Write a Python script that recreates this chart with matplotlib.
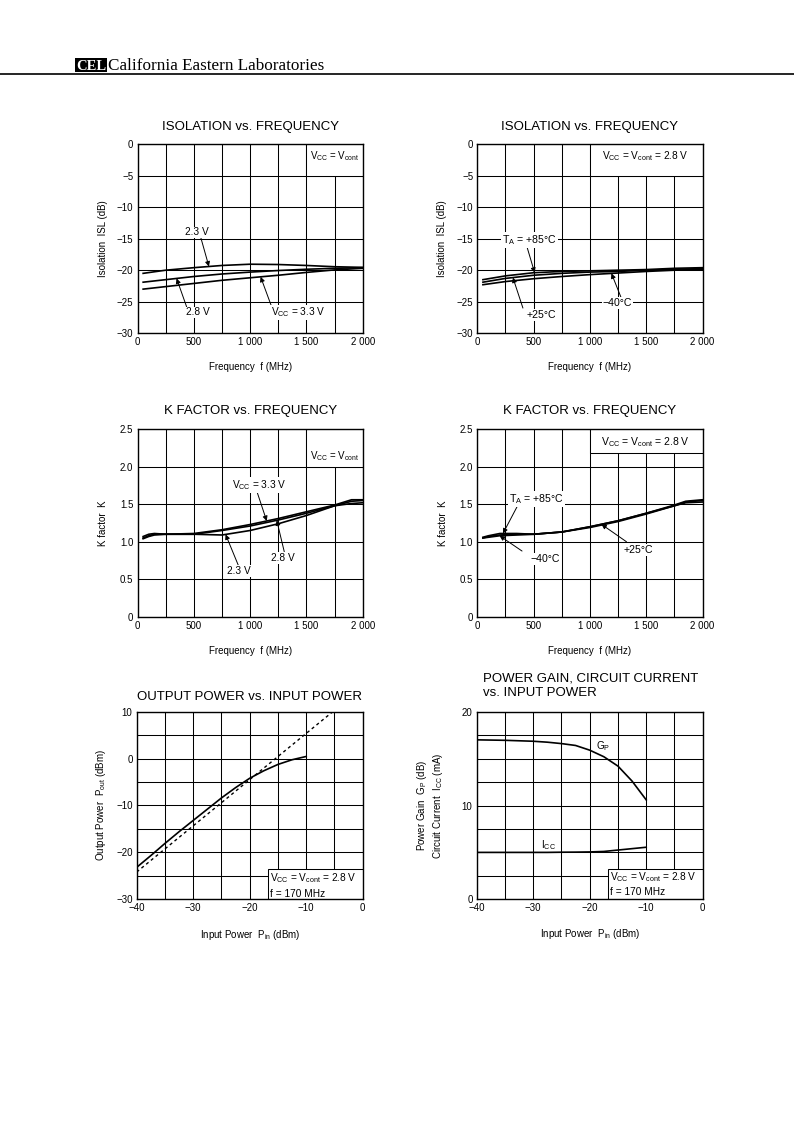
import numpy as np
import matplotlib.pyplot as plt
from matplotlib.patches import Rectangle
from matplotlib.lines import Line2D

plt.rcParams['font.family'] = ['Liberation Sans', 'DejaVu Sans']
plt.rcParams['mathtext.default'] = 'regular'

# ---- data ----
freq = [50, 250, 500, 750, 1000, 1250, 1500, 1750, 2000]
isl_23v = [-20.5, -20.0, -19.6, -19.25, -19.05, -19.1, -19.25, -19.45, -19.55]
isl_28v = [-21.9, -21.5, -21.0, -20.6, -20.3, -20.05, -19.85, -19.7, -19.6]
isl_33v = [-23.0, -22.6, -22.1, -21.6, -21.2, -20.8, -20.35, -19.95, -19.7]

isl_p85 = [-21.5, -20.9, -20.4, -20.2, -20.1, -20.0, -19.9, -19.7, -19.6]
isl_p25 = [-21.9, -21.3, -20.8, -20.5, -20.3, -20.2, -20.0, -19.85, -19.75]
isl_m40 = [-22.3, -21.8, -21.35, -21.0, -20.7, -20.45, -20.2, -20.0, -19.85]

freq_k = [50, 100, 150, 250, 500, 750, 1000, 1250, 1500, 1750, 1900, 2000]
k_33v = [1.07, 1.10, 1.11, 1.10, 1.11, 1.16, 1.23, 1.31, 1.40, 1.49, 1.56, 1.56]
k_28v = [1.05, 1.08, 1.10, 1.10, 1.10, 1.15, 1.21, 1.29, 1.38, 1.48, 1.54, 1.55]
k_23v = [1.04, 1.07, 1.09, 1.10, 1.10, 1.09, 1.15, 1.24, 1.35, 1.48, 1.51, 1.52]

freq_kt = [50, 100, 200, 350, 500, 750, 1000, 1250, 1500, 1750, 1850, 2000]
k_p85 = [1.06, 1.08, 1.11, 1.11, 1.10, 1.13, 1.20, 1.28, 1.38, 1.49, 1.54, 1.56]
k_p25 = [1.05, 1.07, 1.09, 1.10, 1.10, 1.13, 1.20, 1.28, 1.38, 1.48, 1.53, 1.55]
k_m40 = [1.05, 1.06, 1.08, 1.09, 1.10, 1.13, 1.19, 1.27, 1.37, 1.48, 1.52, 1.53]

pin = [-40, -37.5, -35, -32.5, -30, -27.5, -25, -22.5, -20, -17.5, -15, -12.5, -10]
pout = [-23.2, -20.7, -18.1, -15.6, -13.2, -10.8, -8.4, -6.2, -4.2, -2.6, -1.25, -0.25, 0.45]
pin_linear = [-40, -5.3]
pout_linear = [-24.2, 10.0]

pin_g = [-40, -35, -30, -27.5, -25, -22.5, -20, -17.5, -15, -12.5, -10]
gain = [17.0, 16.95, 16.85, 16.75, 16.6, 16.4, 15.9, 15.2, 14.2, 12.6, 10.6]
icc = [5.0, 5.0, 5.0, 5.0, 5.02, 5.03, 5.05, 5.1, 5.25, 5.4, 5.55]

freq_ticks = [0, 500, 1000, 1500, 2000]
freq_ticklabels = ['0', '500', '1 000', '1 500', '2 000']
isl_ticks = [0, -5, -10, -15, -20, -25, -30]
isl_ticklabels = ['0', '\u22125', '\u221210', '\u221215', '\u221220', '\u221225', '\u221230']
k_ticks = [0, 0.5, 1.0, 1.5, 2.0, 2.5]
k_ticklabels = ['0', '0.5', '1.0', '1.5', '2.0', '2.5']
pin_ticks = [-40, -30, -20, -10, 0]
pin_ticklabels = ['\u221240', '\u221230', '\u221220', '\u221210', '0']
pout_ticks = [-30, -20, -10, 0, 10]
pout_ticklabels = ['\u221230', '\u221220', '\u221210', '0', '10']
gain_ticks = [0, 10, 20]
gain_ticklabels = ['0', '10', '20']

W, H = 794, 1123
LEFT_COL, RIGHT_COL, AX_W = 137.5, 477.3, 225.3


def px_rect(left, top, width, height):
    """Axes rectangle in figure fraction from pixel coordinates."""
    return [left / W, 1 - (top + height) / H, width / W, height / H]


def format_axes(ax, xlim, ylim, xticks, xticklabels, xgrid, yticks, yticklabels,
                ygrid, xlabel, ylabel, ylabel_x=-0.133, xlabel_y=-0.15):
    """Datasheet style: black grid, no tick marks, plain labels"""
    ax.set_xlim(xlim)
    ax.set_ylim(ylim)
    ax.set_xticks(xticks)
    ax.set_xticklabels(xticklabels)
    ax.set_xticks(xgrid, minor=True)
    ax.set_yticks(yticks)
    ax.set_yticklabels(yticklabels)
    ax.set_yticks(ygrid, minor=True)
    ax.grid(True, which='both', color='black', linewidth=0.75)
    ax.set_axisbelow(True)
    ax.tick_params(which='both', length=0, labelsize=7, pad=3)
    for spine in ax.spines.values():
        spine.set_linewidth(1.0)
    ax.set_xlabel(xlabel, fontsize=7)
    ax.set_ylabel(ylabel, fontsize=7)
    ax.xaxis.set_label_coords(0.5, xlabel_y)
    ax.yaxis.set_label_coords(ylabel_x, 0.5)


def title(ax, text, y=1.075):
    ax.text(0.5, y, text, transform=ax.transAxes, ha='center', va='baseline',
            fontsize=9.5)


def box(ax, x0, y0, x1, y1):
    ax.add_patch(Rectangle((x0, y0), x1 - x0, y1 - y0, facecolor='white',
                           edgecolor='black', linewidth=0.75, zorder=1.5))


def label(ax, x, y, text, size=7.3, ha='center', clear=True):
    bbox = dict(facecolor='white', edgecolor='none', pad=0.6) if clear else None
    ax.text(x, y, text, ha=ha, va='center', fontsize=size, zorder=4, bbox=bbox)


def arrow(ax, tail, tip):
    ax.annotate('', xy=tip, xytext=tail, zorder=3,
                arrowprops=dict(arrowstyle='-|>', color='black', lw=0.7,
                                mutation_scale=7, shrinkA=0, shrinkB=0))


def curve(ax, x, y, **kw):
    ax.plot(x, y, color='black', linewidth=1.2, zorder=2, **kw)


fig = plt.figure(figsize=(W / 100, H / 100), dpi=100)

# ---- header ----
fig.add_artist(Line2D([0, 1], [1 - 74.3 / H] * 2, color='black', linewidth=1.2))
fig.add_artist(Rectangle((75 / W, 1 - 71.7 / H), 32 / W, 14 / H,
                         facecolor='black', edgecolor='none'))
fig.text(91 / W, 1 - 70.5 / H, 'CEL', color='white', fontsize=10.5,
         family='Liberation Serif', weight='bold', ha='center', va='baseline')
fig.text(108 / W, 1 - 70.5 / H, 'California Eastern Laboratories',
         fontsize=12.3, family='Liberation Serif', va='baseline')

freq_grid = np.arange(0, 2001, 250)
pin_grid = np.arange(-40, 1, 5)

# ---- isolation vs frequency (Vcc) ----
ax1 = fig.add_axes(px_rect(LEFT_COL, 144, AX_W, 189.3))
format_axes(ax1, (0, 2000), (-30, 0), freq_ticks, freq_ticklabels, freq_grid,
            isl_ticks, isl_ticklabels, np.arange(-30, 1, 5),
            'Frequency  f (MHz)', 'Isolation  ISL (dB)')
title(ax1, 'ISOLATION vs. FREQUENCY', 1.074)
for s in (isl_23v, isl_28v, isl_33v):
    curve(ax1, freq, s)
box(ax1, 1500, -5, 2000, 0)
label(ax1, 1750, -1.85, 'V$_{CC}$ = V$_{cont}$', size=7)
label(ax1, 524, -14.0, '2.3 V')
arrow(ax1, (563, -14.9), (634, np.interp(634, freq, isl_23v)))
label(ax1, 539, -26.7, '2.8 V')
arrow(ax1, (436, -25.8), (347, np.interp(347, freq, isl_28v)))
label(ax1, 1428, -26.7, 'V$_{CC}$ = 3.3 V')
arrow(ax1, (1191, -25.8), (1093, np.interp(1093, freq, isl_33v)))

# ---- isolation vs frequency (temperature) ----
ax2 = fig.add_axes(px_rect(RIGHT_COL, 144, AX_W, 189.3))
format_axes(ax2, (0, 2000), (-30, 0), freq_ticks, freq_ticklabels, freq_grid,
            isl_ticks, isl_ticklabels, np.arange(-30, 1, 5),
            'Frequency  f (MHz)', 'Isolation  ISL (dB)')
title(ax2, 'ISOLATION vs. FREQUENCY', 1.074)
for s in (isl_p85, isl_p25, isl_m40):
    curve(ax2, freq, s)
box(ax2, 1000, -5, 2000, 0)
label(ax2, 1491, -1.85, 'V$_{CC}$ = V$_{cont}$ = 2.8 V', size=7.3)
label(ax2, 465, -15.2, 'T$_A$ = +85\u00b0C', size=7.6)
arrow(ax2, (436, -16.0), (509, np.interp(509, freq, isl_p85)))
label(ax2, 569, -27.1, '+25\u00b0C', size=7.6)
arrow(ax2, (405, -26.0), (316, np.interp(316, freq, isl_p25)))
label(ax2, 1244, -25.2, '\u221240\u00b0C', size=7.6)
arrow(ax2, (1280, -24.5), (1191, np.interp(1191, freq, isl_m40)))

# ---- K factor vs frequency (Vcc) ----
ax3 = fig.add_axes(px_rect(LEFT_COL, 429.3, AX_W, 187.4))
format_axes(ax3, (0, 2000), (0, 2.5), freq_ticks, freq_ticklabels, freq_grid,
            k_ticks, k_ticklabels, k_ticks,
            'Frequency  f (MHz)', 'K factor  K', ylabel_x=-0.13, xlabel_y=-0.155)
title(ax3, 'K FACTOR vs. FREQUENCY', 1.08)
for s in (k_33v, k_28v, k_23v):
    curve(ax3, freq_k, s)
box(ax3, 1500, 2.0, 2000, 2.5)
label(ax3, 1754, 2.14, 'V$_{CC}$ = V$_{cont}$', size=7)
label(ax3, 1081, 1.757, 'V$_{CC}$ = 3.3 V')
arrow(ax3, (1058, 1.68), (1147, np.interp(1147, freq_k, k_33v)))
label(ax3, 1289, 0.786, '2.8 V')
arrow(ax3, (1303, 0.866), (1236, np.interp(1236, freq_k, k_28v)))
label(ax3, 900, 0.613, '2.3 V')
arrow(ax3, (894, 0.689), (782, np.interp(782, freq_k, k_23v)))

# ---- K factor vs frequency (temperature) ----
ax4 = fig.add_axes(px_rect(RIGHT_COL, 429.3, AX_W, 187.4))
format_axes(ax4, (0, 2000), (0, 2.5), freq_ticks, freq_ticklabels, freq_grid,
            k_ticks, k_ticklabels, k_ticks,
            'Frequency  f (MHz)', 'K factor  K', ylabel_x=-0.13, xlabel_y=-0.155)
title(ax4, 'K FACTOR vs. FREQUENCY', 1.08)
for s in (k_p85, k_p25, k_m40):
    curve(ax4, freq_kt, s)
box(ax4, 1000, 2.19, 2000, 2.5)
label(ax4, 1490, 2.335, 'V$_{CC}$ = V$_{cont}$ = 2.8 V', size=7.5)
label(ax4, 524, 1.57, 'T$_A$ = +85\u00b0C', size=7.6)
arrow(ax4, (361, 1.49), (228, np.interp(228, freq_kt, k_p85)))
label(ax4, 598, 0.769, '\u221240\u00b0C', size=7.6)
arrow(ax4, (397, 0.876), (198, np.interp(198, freq_kt, k_m40)))
label(ax4, 1428, 0.89, '+25\u00b0C', size=7.6)
arrow(ax4, (1324, 1.0), (1102, np.interp(1102, freq_kt, k_p25)))

# ---- output power vs input power ----
ax5 = fig.add_axes(px_rect(136.7, 711.7, 226, 187.5))
format_axes(ax5, (-40, 0), (-30, 10), pin_ticks, pin_ticklabels, pin_grid,
            pout_ticks, pout_ticklabels, np.arange(-30, 11, 5),
            'Input Power  P$_{in}$ (dBm)', 'Output Power  P$_{out}$ (dBm)',
            ylabel_x=-0.125, xlabel_y=-0.153)
title(ax5, 'OUTPUT POWER vs. INPUT POWER', 1.0625)
curve(ax5, pin, pout)
ax5.plot(pin_linear, pout_linear, color='black', linewidth=1.0,
         linestyle=(0, (2.2, 2.2)), zorder=2)
box(ax5, -16.8, -30, 0, -23.6)
ax5.text(-16.4, -25.6, 'V$_{CC}$ = V$_{cont}$ = 2.8 V', fontsize=7.3, va='center', zorder=4)
ax5.text(-16.4, -28.8, 'f = 170 MHz', fontsize=7.3, va='center', zorder=4)

# ---- power gain, circuit current vs input power ----
ax6 = fig.add_axes(px_rect(476.7, 711.7, 226, 187.6))
format_axes(ax6, (-40, 0), (0, 20), pin_ticks, pin_ticklabels, pin_grid,
            gain_ticks, gain_ticklabels, np.arange(0, 20.1, 2.5),
            'Input Power  P$_{in}$ (dBm)',
            'Power Gain  G$_P$ (dB)\nCircuit Current  I$_{CC}$ (mA)',
            ylabel_x=-0.14, xlabel_y=-0.15)
ax6.text(0.028, 1.16, 'POWER GAIN, CIRCUIT CURRENT', transform=ax6.transAxes,
         ha='left', va='baseline', fontsize=9.5)
ax6.text(0.028, 1.083, 'vs. INPUT POWER', transform=ax6.transAxes,
         ha='left', va='baseline', fontsize=9.5)
curve(ax6, pin_g, gain)
curve(ax6, pin_g, icc)
box(ax6, -16.8, 0, 0, 3.23)
ax6.text(-16.4, 2.35, 'V$_{CC}$ = V$_{cont}$ = 2.8 V', fontsize=7.3, va='center', zorder=4)
ax6.text(-16.4, 0.81, 'f = 170 MHz', fontsize=7.3, va='center', zorder=4)
label(ax6, -17.6, 16.3, 'G$_P$', clear=False)
label(ax6, -27.3, 5.75, 'I$_{CC}$', clear=False)

fig.savefig('out.png', dpi=100, facecolor='white')
